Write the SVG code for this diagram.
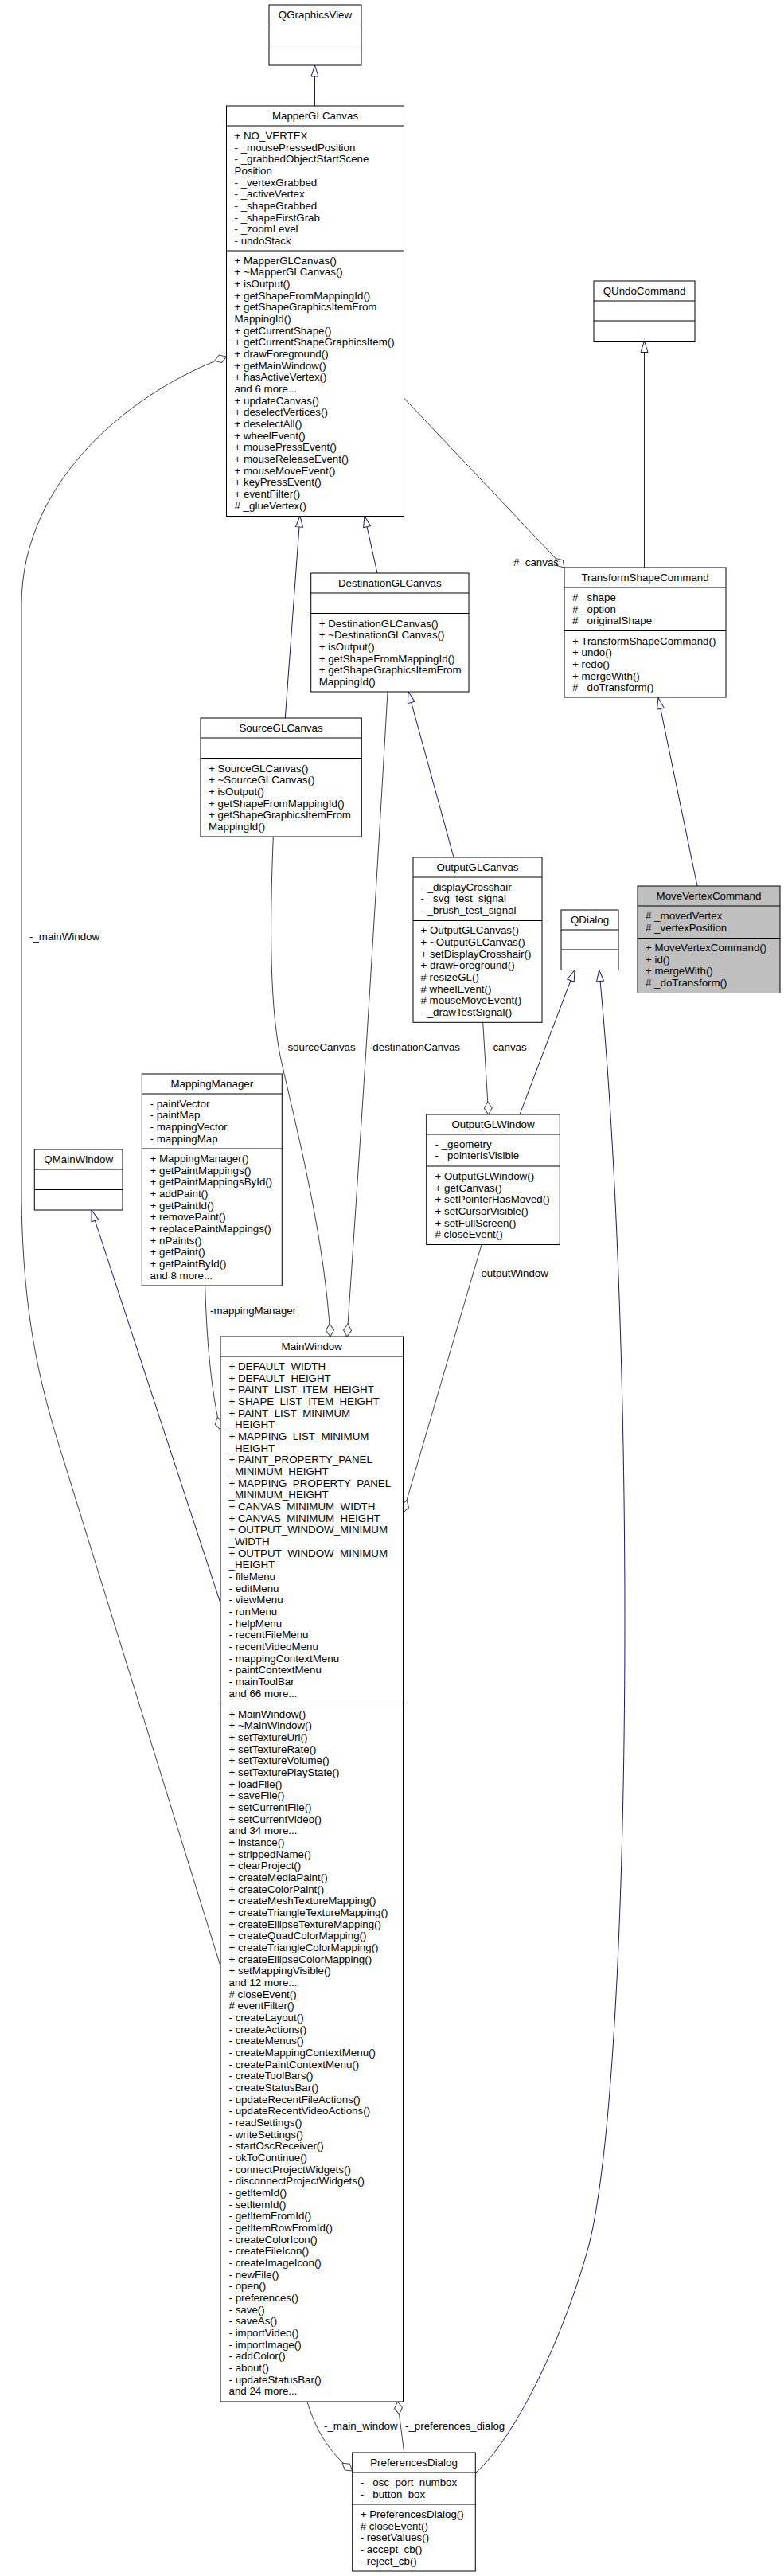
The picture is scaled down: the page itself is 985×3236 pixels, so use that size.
<svg xmlns="http://www.w3.org/2000/svg" width="985" height="3236" viewBox="0 0 985 3236">
<style>
text { font-family: "Liberation Sans", Arial, Helvetica, sans-serif; font-size: 13.33px; fill: #000; }
.t { text-anchor: middle; }
.box { fill: #fff; stroke: #000; stroke-width: 1; }
.hl { fill: #bfbfbf; }
.sep { stroke: #000; stroke-width: 1; }
.inh { fill: none; stroke: #191970; stroke-width: 1; marker-end: url(#tri); }
.agg { fill: none; stroke: #404040; stroke-width: 1; marker-end: url(#dia); }
</style>
<defs>
<marker id="tri" markerUnits="userSpaceOnUse" markerWidth="18" markerHeight="12" viewBox="0 0 18 12" refX="16" refY="6" orient="auto" overflow="visible">
<path d="M2,1.5 L16,6 L2,10.5 Z" fill="#fff" stroke="#191970" stroke-width="1"/>
</marker>
<marker id="dia" markerUnits="userSpaceOnUse" markerWidth="18" markerHeight="12" viewBox="0 0 18 12" refX="17" refY="6" orient="auto" overflow="visible">
<path d="M1,6 L9,1 L17,6 L9,11 Z" fill="#fff" stroke="#404040" stroke-width="1"/>
</marker>
</defs>
<rect width="985" height="3236" fill="#fff"/>

<g id="edges">
<path class="inh" d="M395.5,133 L395.5,82"/>
<path class="inh" d="M358.3,902 L377,648"/>
<path class="inh" d="M474,720 L458,648"/>
<path class="inh" d="M809.5,713 L809.5,428.5"/>
<path class="inh" d="M876,1113 L827,876.5"/>
<path class="inh" d="M570,1077 L513,869"/>
<path class="inh" d="M653,1400 L722,1218.5"/>
<path class="inh" d="M597,3107 C650,3060 710,2930 740,2820 C795,2600 800,1700 752.7,1218.5"/>
<path class="inh" d="M277,2014 L115,1520"/>
<path class="agg" d="M277,2470 L78,1828 C50,1740 28,1650 27,1500 L27,760 C27,600 170,490 284.5,448"/>
<path class="agg" d="M343.3,1051 C339,1160 338,1270 355,1340 C378,1440 408,1560 415,1679"/>
<path class="agg" d="M487,869 C476,1060 462,1300 436,1679"/>
<path class="agg" d="M606.7,1284 L613.7,1400"/>
<path class="agg" d="M605,1563.5 L506.5,1900"/>
<path class="agg" d="M257.7,1615 C260,1700 268,1760 277,1796"/>
<path class="agg" d="M386,3017 C396,3050 412,3080 442.7,3104"/>
<path class="agg" d="M507.7,3081 L499.5,3017"/>
<path class="agg" d="M507.5,500 L709,713"/>
<text x="37" y="1181">-_mainWindow</text>
<text x="357" y="1320">-sourceCanvas</text>
<text x="578" y="1320" text-anchor="end">-destinationCanvas</text>
<text x="615" y="1320">-canvas</text>
<text x="264" y="1651">-mappingManager</text>
<text x="600" y="1604">-outputWindow</text>
<text x="702" y="711" text-anchor="end">#_canvas</text>
<text x="407" y="3052">-_main_window</text>
<text x="509" y="3052">-_preferences_dialog</text>
</g>

<g id="QGraphicsView">
<rect class="box" x="338" y="6" width="116" height="76"/>
<line class="sep" x1="338" y1="31.5" x2="454" y2="31.5"/>
<line class="sep" x1="338" y1="56.5" x2="454" y2="56.5"/>
<text class="t" x="396" y="23">QGraphicsView</text>
</g>

<g id="MapperGLCanvas">
<rect class="box" x="284.5" y="133" width="223" height="515.5"/>
<line class="sep" x1="284.5" y1="158" x2="507.5" y2="158"/>
<line class="sep" x1="284.5" y1="315" x2="507.5" y2="315"/>
<text class="t" x="396" y="150">MapperGLCanvas</text>
<text x="294.5" y="175"><tspan x="294.5">+ NO_VERTEX</tspan><tspan x="294.5" dy="14.67">- _mousePressedPosition</tspan><tspan x="294.5" dy="14.67">- _grabbedObjectStartScene</tspan><tspan x="294.5" dy="14.67">Position</tspan><tspan x="294.5" dy="14.67">- _vertexGrabbed</tspan><tspan x="294.5" dy="14.67">- _activeVertex</tspan><tspan x="294.5" dy="14.67">- _shapeGrabbed</tspan><tspan x="294.5" dy="14.67">- _shapeFirstGrab</tspan><tspan x="294.5" dy="14.67">- _zoomLevel</tspan><tspan x="294.5" dy="14.67">- undoStack</tspan></text>
<text x="294.5" y="331.5"><tspan x="294.5">+ MapperGLCanvas()</tspan><tspan x="294.5" dy="14.67">+ ~MapperGLCanvas()</tspan><tspan x="294.5" dy="14.67">+ isOutput()</tspan><tspan x="294.5" dy="14.67">+ getShapeFromMappingId()</tspan><tspan x="294.5" dy="14.67">+ getShapeGraphicsItemFrom</tspan><tspan x="294.5" dy="14.67">MappingId()</tspan><tspan x="294.5" dy="14.67">+ getCurrentShape()</tspan><tspan x="294.5" dy="14.67">+ getCurrentShapeGraphicsItem()</tspan><tspan x="294.5" dy="14.67">+ drawForeground()</tspan><tspan x="294.5" dy="14.67">+ getMainWindow()</tspan><tspan x="294.5" dy="14.67">+ hasActiveVertex()</tspan><tspan x="294.5" dy="14.67">and 6 more...</tspan><tspan x="294.5" dy="14.67">+ updateCanvas()</tspan><tspan x="294.5" dy="14.67">+ deselectVertices()</tspan><tspan x="294.5" dy="14.67">+ deselectAll()</tspan><tspan x="294.5" dy="14.67">+ wheelEvent()</tspan><tspan x="294.5" dy="14.67">+ mousePressEvent()</tspan><tspan x="294.5" dy="14.67">+ mouseReleaseEvent()</tspan><tspan x="294.5" dy="14.67">+ mouseMoveEvent()</tspan><tspan x="294.5" dy="14.67">+ keyPressEvent()</tspan><tspan x="294.5" dy="14.67">+ eventFilter()</tspan><tspan x="294.5" dy="14.67"># _glueVertex()</tspan></text>
</g>

<g id="QUndoCommand">
<rect class="box" x="746" y="353" width="127" height="75.5"/>
<line class="sep" x1="746" y1="378" x2="873" y2="378"/>
<line class="sep" x1="746" y1="403" x2="873" y2="403"/>
<text class="t" x="809.5" y="370">QUndoCommand</text>
</g>

<g id="TransformShapeCommand">
<rect class="box" x="709" y="713" width="203" height="163"/>
<line class="sep" x1="709" y1="738" x2="912" y2="738"/>
<line class="sep" x1="709" y1="792.5" x2="912" y2="792.5"/>
<text class="t" x="810.5" y="730">TransformShapeCommand</text>
<text x="719" y="755"><tspan x="719"># _shape</tspan><tspan x="719" dy="14.67"># _option</tspan><tspan x="719" dy="14.67"># _originalShape</tspan></text>
<text x="719" y="809.5"><tspan x="719">+ TransformShapeCommand()</tspan><tspan x="719" dy="14.67">+ undo()</tspan><tspan x="719" dy="14.67">+ redo()</tspan><tspan x="719" dy="14.67">+ mergeWith()</tspan><tspan x="719" dy="14.67"># _doTransform()</tspan></text>
</g>

<g id="DestinationGLCanvas">
<rect class="box" x="390.7" y="720" width="198.3" height="149"/>
<line class="sep" x1="390.7" y1="745" x2="589" y2="745"/>
<line class="sep" x1="390.7" y1="770.5" x2="589" y2="770.5"/>
<text class="t" x="489.8" y="737">DestinationGLCanvas</text>
<text x="400.7" y="787.5"><tspan x="400.7">+ DestinationGLCanvas()</tspan><tspan x="400.7" dy="14.67">+ ~DestinationGLCanvas()</tspan><tspan x="400.7" dy="14.67">+ isOutput()</tspan><tspan x="400.7" dy="14.67">+ getShapeFromMappingId()</tspan><tspan x="400.7" dy="14.67">+ getShapeGraphicsItemFrom</tspan><tspan x="400.7" dy="14.67">MappingId()</tspan></text>
</g>

<g id="SourceGLCanvas">
<rect class="box" x="252" y="902" width="202.3" height="149"/>
<line class="sep" x1="252" y1="927" x2="454.3" y2="927"/>
<line class="sep" x1="252" y1="952.5" x2="454.3" y2="952.5"/>
<text class="t" x="353" y="919">SourceGLCanvas</text>
<text x="262" y="969.5"><tspan x="262">+ SourceGLCanvas()</tspan><tspan x="262" dy="14.67">+ ~SourceGLCanvas()</tspan><tspan x="262" dy="14.67">+ isOutput()</tspan><tspan x="262" dy="14.67">+ getShapeFromMappingId()</tspan><tspan x="262" dy="14.67">+ getShapeGraphicsItemFrom</tspan><tspan x="262" dy="14.67">MappingId()</tspan></text>
</g>

<g id="OutputGLCanvas">
<rect class="box" x="519" y="1077" width="162" height="207.3"/>
<line class="sep" x1="519" y1="1102" x2="681" y2="1102"/>
<line class="sep" x1="519" y1="1156.5" x2="681" y2="1156.5"/>
<text class="t" x="600" y="1094">OutputGLCanvas</text>
<text x="528.5" y="1118.8"><tspan x="528.5">- _displayCrosshair</tspan><tspan x="528.5" dy="14.67">- _svg_test_signal</tspan><tspan x="528.5" dy="14.67">- _brush_test_signal</tspan></text>
<text x="528.5" y="1173.3"><tspan x="528.5">+ OutputGLCanvas()</tspan><tspan x="528.5" dy="14.67">+ ~OutputGLCanvas()</tspan><tspan x="528.5" dy="14.67">+ setDisplayCrosshair()</tspan><tspan x="528.5" dy="14.67">+ drawForeground()</tspan><tspan x="528.5" dy="14.67"># resizeGL()</tspan><tspan x="528.5" dy="14.67"># wheelEvent()</tspan><tspan x="528.5" dy="14.67"># mouseMoveEvent()</tspan><tspan x="528.5" dy="14.67">- _drawTestSignal()</tspan></text>
</g>

<g id="QDialog">
<rect class="box" x="705" y="1143" width="72" height="75.5"/>
<line class="sep" x1="705" y1="1168" x2="777" y2="1168"/>
<line class="sep" x1="705" y1="1193" x2="777" y2="1193"/>
<text class="t" x="741" y="1160">QDialog</text>
</g>

<g id="MoveVertexCommand">
<rect class="box hl" x="801" y="1113" width="179" height="134.5"/>
<line class="sep" x1="801" y1="1138" x2="980" y2="1138"/>
<line class="sep" x1="801" y1="1178.5" x2="980" y2="1178.5"/>
<text class="t" x="890.5" y="1130">MoveVertexCommand</text>
<text x="811" y="1155"><tspan x="811"># _movedVertex</tspan><tspan x="811" dy="14.67"># _vertexPosition</tspan></text>
<text x="811" y="1195"><tspan x="811">+ MoveVertexCommand()</tspan><tspan x="811" dy="14.67">+ id()</tspan><tspan x="811" dy="14.67">+ mergeWith()</tspan><tspan x="811" dy="14.67"># _doTransform()</tspan></text>
</g>

<g id="OutputGLWindow">
<rect class="box" x="535.7" y="1400" width="167.6" height="163.5"/>
<line class="sep" x1="535.7" y1="1425" x2="703.3" y2="1425"/>
<line class="sep" x1="535.7" y1="1465" x2="703.3" y2="1465"/>
<text class="t" x="619.5" y="1417">OutputGLWindow</text>
<text x="546.5" y="1441.8"><tspan x="546.5">- _geometry</tspan><tspan x="546.5" dy="14.67">- _pointerIsVisible</tspan></text>
<text x="546.5" y="1482"><tspan x="546.5">+ OutputGLWindow()</tspan><tspan x="546.5" dy="14.67">+ getCanvas()</tspan><tspan x="546.5" dy="14.67">+ setPointerHasMoved()</tspan><tspan x="546.5" dy="14.67">+ setCursorVisible()</tspan><tspan x="546.5" dy="14.67">+ setFullScreen()</tspan><tspan x="546.5" dy="14.67"># closeEvent()</tspan></text>
</g>

<g id="MappingManager">
<rect class="box" x="178.3" y="1349" width="176" height="266"/>
<line class="sep" x1="178.3" y1="1374" x2="354.3" y2="1374"/>
<line class="sep" x1="178.3" y1="1443" x2="354.3" y2="1443"/>
<text class="t" x="266.3" y="1366">MappingManager</text>
<text x="188.5" y="1390.5"><tspan x="188.5">- paintVector</tspan><tspan x="188.5" dy="14.67">- paintMap</tspan><tspan x="188.5" dy="14.67">- mappingVector</tspan><tspan x="188.5" dy="14.67">- mappingMap</tspan></text>
<text x="188.5" y="1460"><tspan x="188.5">+ MappingManager()</tspan><tspan x="188.5" dy="14.67">+ getPaintMappings()</tspan><tspan x="188.5" dy="14.67">+ getPaintMappingsById()</tspan><tspan x="188.5" dy="14.67">+ addPaint()</tspan><tspan x="188.5" dy="14.67">+ getPaintId()</tspan><tspan x="188.5" dy="14.67">+ removePaint()</tspan><tspan x="188.5" dy="14.67">+ replacePaintMappings()</tspan><tspan x="188.5" dy="14.67">+ nPaints()</tspan><tspan x="188.5" dy="14.67">+ getPaint()</tspan><tspan x="188.5" dy="14.67">+ getPaintById()</tspan><tspan x="188.5" dy="14.67">and 8 more...</tspan></text>
</g>

<g id="QMainWindow">
<rect class="box" x="43.3" y="1444" width="110.7" height="76"/>
<line class="sep" x1="43.3" y1="1469" x2="154" y2="1469"/>
<line class="sep" x1="43.3" y1="1494.5" x2="154" y2="1494.5"/>
<text class="t" x="98.7" y="1461">QMainWindow</text>
</g>

<g id="MainWindow">
<rect class="box" x="277" y="1679" width="229.5" height="1338"/>
<line class="sep" x1="277" y1="1704" x2="506.5" y2="1704"/>
<line class="sep" x1="277" y1="2140.5" x2="506.5" y2="2140.5"/>
<text class="t" x="391.7" y="1696">MainWindow</text>
<text x="287.5" y="1721"><tspan x="287.5">+ DEFAULT_WIDTH</tspan><tspan x="287.5" dy="14.67">+ DEFAULT_HEIGHT</tspan><tspan x="287.5" dy="14.67">+ PAINT_LIST_ITEM_HEIGHT</tspan><tspan x="287.5" dy="14.67">+ SHAPE_LIST_ITEM_HEIGHT</tspan><tspan x="287.5" dy="14.67">+ PAINT_LIST_MINIMUM</tspan><tspan x="287.5" dy="14.67">_HEIGHT</tspan><tspan x="287.5" dy="14.67">+ MAPPING_LIST_MINIMUM</tspan><tspan x="287.5" dy="14.67">_HEIGHT</tspan><tspan x="287.5" dy="14.67">+ PAINT_PROPERTY_PANEL</tspan><tspan x="287.5" dy="14.67">_MINIMUM_HEIGHT</tspan><tspan x="287.5" dy="14.67">+ MAPPING_PROPERTY_PANEL</tspan><tspan x="287.5" dy="14.67">_MINIMUM_HEIGHT</tspan><tspan x="287.5" dy="14.67">+ CANVAS_MINIMUM_WIDTH</tspan><tspan x="287.5" dy="14.67">+ CANVAS_MINIMUM_HEIGHT</tspan><tspan x="287.5" dy="14.67">+ OUTPUT_WINDOW_MINIMUM</tspan><tspan x="287.5" dy="14.67">_WIDTH</tspan><tspan x="287.5" dy="14.67">+ OUTPUT_WINDOW_MINIMUM</tspan><tspan x="287.5" dy="14.67">_HEIGHT</tspan><tspan x="287.5" dy="14.67">- fileMenu</tspan><tspan x="287.5" dy="14.67">- editMenu</tspan><tspan x="287.5" dy="14.67">- viewMenu</tspan><tspan x="287.5" dy="14.67">- runMenu</tspan><tspan x="287.5" dy="14.67">- helpMenu</tspan><tspan x="287.5" dy="14.67">- recentFileMenu</tspan><tspan x="287.5" dy="14.67">- recentVideoMenu</tspan><tspan x="287.5" dy="14.67">- mappingContextMenu</tspan><tspan x="287.5" dy="14.67">- paintContextMenu</tspan><tspan x="287.5" dy="14.67">- mainToolBar</tspan><tspan x="287.5" dy="14.67">and 66 more...</tspan></text>
<text x="287.5" y="2157.5"><tspan x="287.5">+ MainWindow()</tspan><tspan x="287.5" dy="14.67">+ ~MainWindow()</tspan><tspan x="287.5" dy="14.67">+ setTextureUri()</tspan><tspan x="287.5" dy="14.67">+ setTextureRate()</tspan><tspan x="287.5" dy="14.67">+ setTextureVolume()</tspan><tspan x="287.5" dy="14.67">+ setTexturePlayState()</tspan><tspan x="287.5" dy="14.67">+ loadFile()</tspan><tspan x="287.5" dy="14.67">+ saveFile()</tspan><tspan x="287.5" dy="14.67">+ setCurrentFile()</tspan><tspan x="287.5" dy="14.67">+ setCurrentVideo()</tspan><tspan x="287.5" dy="14.67">and 34 more...</tspan><tspan x="287.5" dy="14.67">+ instance()</tspan><tspan x="287.5" dy="14.67">+ strippedName()</tspan><tspan x="287.5" dy="14.67">+ clearProject()</tspan><tspan x="287.5" dy="14.67">+ createMediaPaint()</tspan><tspan x="287.5" dy="14.67">+ createColorPaint()</tspan><tspan x="287.5" dy="14.67">+ createMeshTextureMapping()</tspan><tspan x="287.5" dy="14.67">+ createTriangleTextureMapping()</tspan><tspan x="287.5" dy="14.67">+ createEllipseTextureMapping()</tspan><tspan x="287.5" dy="14.67">+ createQuadColorMapping()</tspan><tspan x="287.5" dy="14.67">+ createTriangleColorMapping()</tspan><tspan x="287.5" dy="14.67">+ createEllipseColorMapping()</tspan><tspan x="287.5" dy="14.67">+ setMappingVisible()</tspan><tspan x="287.5" dy="14.67">and 12 more...</tspan><tspan x="287.5" dy="14.67"># closeEvent()</tspan><tspan x="287.5" dy="14.67"># eventFilter()</tspan><tspan x="287.5" dy="14.67">- createLayout()</tspan><tspan x="287.5" dy="14.67">- createActions()</tspan><tspan x="287.5" dy="14.67">- createMenus()</tspan><tspan x="287.5" dy="14.67">- createMappingContextMenu()</tspan><tspan x="287.5" dy="14.67">- createPaintContextMenu()</tspan><tspan x="287.5" dy="14.67">- createToolBars()</tspan><tspan x="287.5" dy="14.67">- createStatusBar()</tspan><tspan x="287.5" dy="14.67">- updateRecentFileActions()</tspan><tspan x="287.5" dy="14.67">- updateRecentVideoActions()</tspan><tspan x="287.5" dy="14.67">- readSettings()</tspan><tspan x="287.5" dy="14.67">- writeSettings()</tspan><tspan x="287.5" dy="14.67">- startOscReceiver()</tspan><tspan x="287.5" dy="14.67">- okToContinue()</tspan><tspan x="287.5" dy="14.67">- connectProjectWidgets()</tspan><tspan x="287.5" dy="14.67">- disconnectProjectWidgets()</tspan><tspan x="287.5" dy="14.67">- getItemId()</tspan><tspan x="287.5" dy="14.67">- setItemId()</tspan><tspan x="287.5" dy="14.67">- getItemFromId()</tspan><tspan x="287.5" dy="14.67">- getItemRowFromId()</tspan><tspan x="287.5" dy="14.67">- createColorIcon()</tspan><tspan x="287.5" dy="14.67">- createFileIcon()</tspan><tspan x="287.5" dy="14.67">- createImageIcon()</tspan><tspan x="287.5" dy="14.67">- newFile()</tspan><tspan x="287.5" dy="14.67">- open()</tspan><tspan x="287.5" dy="14.67">- preferences()</tspan><tspan x="287.5" dy="14.67">- save()</tspan><tspan x="287.5" dy="14.67">- saveAs()</tspan><tspan x="287.5" dy="14.67">- importVideo()</tspan><tspan x="287.5" dy="14.67">- importImage()</tspan><tspan x="287.5" dy="14.67">- addColor()</tspan><tspan x="287.5" dy="14.67">- about()</tspan><tspan x="287.5" dy="14.67">- updateStatusBar()</tspan><tspan x="287.5" dy="14.67">and 24 more...</tspan></text>
</g>

<g id="PreferencesDialog">
<rect class="box" x="442.7" y="3081" width="154.6" height="149"/>
<line class="sep" x1="442.7" y1="3106" x2="597.3" y2="3106"/>
<line class="sep" x1="442.7" y1="3146" x2="597.3" y2="3146"/>
<text class="t" x="520" y="3098">PreferencesDialog</text>
<text x="452.7" y="3123"><tspan x="452.7">- _osc_port_numbox</tspan><tspan x="452.7" dy="14.67">- _button_box</tspan></text>
<text x="452.7" y="3163"><tspan x="452.7">+ PreferencesDialog()</tspan><tspan x="452.7" dy="14.67"># closeEvent()</tspan><tspan x="452.7" dy="14.67">- resetValues()</tspan><tspan x="452.7" dy="14.67">- accept_cb()</tspan><tspan x="452.7" dy="14.67">- reject_cb()</tspan></text>
</g>
</svg>
